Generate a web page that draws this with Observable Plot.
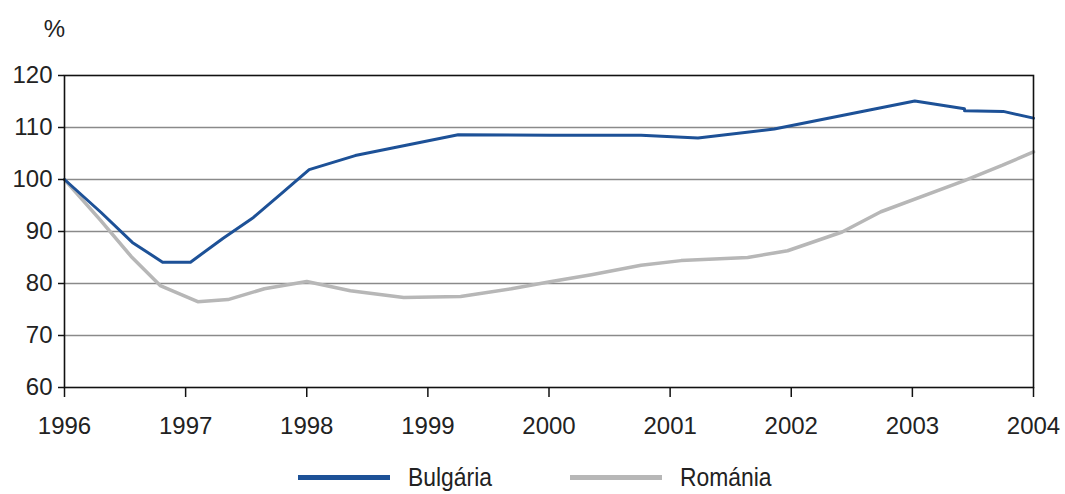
<!DOCTYPE html>
<html><head><meta charset="utf-8">
<script src="https://cdn.jsdelivr.net/npm/d3@7"></script>
<script src="https://cdn.jsdelivr.net/npm/@observablehq/plot@0.6"></script>
<style>
body{margin:0;background:#fff;font-family:"Liberation Sans",Arial,sans-serif;}
#wrap{position:relative;width:1065px;height:494px;overflow:hidden;background:#fff;}
#legend{position:absolute;left:0;top:462px;width:1065px;height:30px;font-family:"Liberation Sans",Arial,sans-serif;font-size:26px;color:#222;}
.item{position:absolute;top:0;height:30px;display:flex;align-items:center;}
.swatch{display:inline-block;width:92px;height:5px;margin-right:18px;}
.lab{display:inline-block;transform:scaleX(0.88);transform-origin:left center;line-height:30px;}
</style>
</head><body>
<div id="wrap"><div id="chart"></div><div id="legend"></div></div>
<script>
const seriesNames = ["Bulgária", "Románia"];
const seriesColors = ["#1d5197", "#b7b7b7"];
const bgYears  = [1996.00, 1996.30, 1996.56, 1996.81, 1997.04, 1997.31, 1997.56, 1997.79, 1998.02, 1998.40, 1998.82, 1999.25, 2000.02, 2000.76, 2001.23, 2001.86, 2003.02, 2003.43, 2003.43, 2003.75, 2004.00];
const bgValues = [100.0, 93.7, 87.9, 84.1, 84.1, 88.7, 92.7, 97.3, 101.9, 104.6, 106.6, 108.6, 108.5, 108.5, 108.0, 109.7, 115.1, 113.6, 113.2, 113.1, 111.8];
const roYears  = [1996.00, 1996.30, 1996.55, 1996.79, 1997.10, 1997.35, 1997.65, 1998.00, 1998.36, 1998.80, 1999.27, 1999.69, 2000.02, 2000.35, 2000.76, 2001.09, 2001.64, 2001.97, 2002.42, 2002.74, 2003.43, 2003.74, 2004.00];
const roValues = [100.0, 92.1, 85.2, 79.6, 76.5, 76.9, 79.0, 80.4, 78.6, 77.3, 77.5, 79.0, 80.4, 81.7, 83.5, 84.4, 85.0, 86.3, 89.9, 93.8, 99.8, 102.7, 105.3];
const yTicks = [60, 70, 80, 90, 100, 110, 120];
const gridTicks = [70, 80, 90, 100, 110];
const xTicks = [1996, 1997, 1998, 1999, 2000, 2001, 2002, 2003, 2004];
const yUnit = "%";

const bg = bgYears.map((x, i) => ({year: x, value: bgValues[i]}));
const ro = roYears.map((x, i) => ({year: x, value: roValues[i]}));

const chart = Plot.plot({
  width: 1065, height: 460,
  marginLeft: 64, marginRight: 32, marginTop: 75, marginBottom: 73,
  x: {domain: [1996, 2004]},
  y: {domain: [60, 120]},
  style: {fontFamily: "'Liberation Sans', Arial, sans-serif", fontSize: "24px", color: "#222", background: "#fff"},
  marks: [
    Plot.gridY(gridTicks, {stroke: "#8a8a8a", strokeOpacity: 1, strokeWidth: 1.5}),
    Plot.line(ro, {x: "year", y: "value", stroke: seriesColors[1], strokeWidth: 3.5}),
    Plot.line(bg, {x: "year", y: "value", stroke: seriesColors[0], strokeWidth: 3}),
    Plot.frame({stroke: "#111", strokeWidth: 1.6}),
    Plot.axisY(yTicks, {tickSize: 6, tickPadding: 6, label: null, fontSize: 24, stroke: "#111", strokeWidth: 1.5}),
    Plot.axisX(xTicks, {tickSize: 10, tickPadding: 19, label: null, fontSize: 24, tickFormat: d => String(d), stroke: "#111", strokeWidth: 1.5}),
    Plot.text([yUnit], {frameAnchor: "top-left", text: d => d, dx: -10, dy: -46, textAnchor: "middle", lineAnchor: "middle", fontSize: 24, fill: "#222"})
  ]
});
document.getElementById("chart").appendChild(chart);

const legend = document.getElementById("legend");
const lefts = [298, 570];
seriesNames.forEach((name, i) => {
  const it = document.createElement("div");
  it.className = "item";
  it.style.left = lefts[i] + "px";
  const sw = document.createElement("span");
  sw.className = "swatch";
  sw.style.background = seriesColors[i];
  const tx = document.createElement("span");
  tx.className = "lab";
  tx.textContent = name;
  it.appendChild(sw); it.appendChild(tx);
  legend.appendChild(it);
});
</script>
</body></html>
